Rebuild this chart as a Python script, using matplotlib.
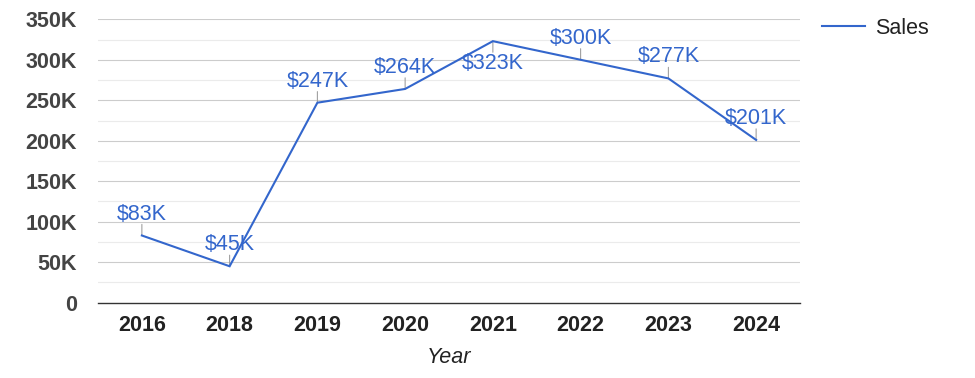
import matplotlib
matplotlib.use("Agg")
import matplotlib.pyplot as plt

years = ["2016", "2018", "2019", "2020", "2021", "2022", "2023", "2024"]
sales = [83000, 45000, 247000, 264000, 323000, 300000, 277000, 201000]
y_ticks = [0, 50000, 100000, 150000, 200000, 250000, 300000, 350000]
y_tick_labels = ["0", "50K", "100K", "150K", "200K", "250K", "300K", "350K"]
minor_ticks = [25000, 75000, 125000, 175000, 225000, 275000, 325000]
series_name = "Sales"
x_title = "Year"

plt.rcParams['font.family'] = ['Liberation Sans', 'DejaVu Sans']

W, H = 975, 378
fig = plt.figure(figsize=(W / 100, H / 100), dpi=100)
left, right, top, bottom = 98, 800, 19.3, 302.7
ax = fig.add_axes([left / W, 1 - bottom / H, (right - left) / W, (bottom - top) / H])

blue = "#3366cc"
fs = 15.5
x = list(range(len(years)))
ax.plot(x, sales, color=blue, lw=1.5, label=series_name, zorder=3, solid_joinstyle='miter')

ax.set_xlim(-0.5, len(years) - 0.5)
ax.set_ylim(0, 350000)

for t in minor_ticks:
    ax.axhline(t, color="#ebebeb", lw=0.8, zorder=1)
for t in y_ticks[1:]:
    ax.axhline(t, color="#cccccc", lw=0.8, zorder=1)

ax.set_yticks(y_ticks)
ax.set_yticklabels(y_tick_labels, fontsize=fs, fontweight='bold', color="#444444")
ax.set_xticks(x)
ax.set_xticklabels(years, fontsize=fs, fontweight='bold', color="#222222")
ax.tick_params(axis='both', length=0)
ax.tick_params(axis='y', pad=15)
ax.tick_params(axis='x', pad=8.5)

for s in ["top", "right", "left"]:
    ax.spines[s].set_visible(False)
ax.spines["bottom"].set_color("#333333")
ax.spines["bottom"].set_linewidth(1.0)
ax.spines["bottom"].set_zorder(2)

ax.set_xlabel(x_title, fontsize=fs, fontstyle='italic', color="#222222", labelpad=8)

ymax = ax.get_ylim()[1]
stem = 8
for xi, v in zip(x, sales):
    label = f"${v / 1000:.0f}K"
    d = -1 if v > 0.9 * ymax else 1
    ax.annotate('', xy=(xi, v), xytext=(0, d * stem), textcoords='offset points',
                arrowprops=dict(arrowstyle='-', color='#999999', lw=0.75, shrinkA=0, shrinkB=0),
                zorder=2)
    if d > 0:
        ax.annotate(label, xy=(xi, v), xytext=(0, stem + 3.5), textcoords='offset points',
                    ha='center', va='baseline', fontsize=fs, color=blue, zorder=4)
    else:
        ax.annotate(label, xy=(xi, v), xytext=(0, -stem - 0.5), textcoords='offset points',
                    ha='center', va='top', fontsize=fs, color=blue, zorder=4)

fig.legend(loc='upper left', bbox_to_anchor=(822 / W, 1 - 18 / H), frameon=False,
           fontsize=fs, handlelength=2.0, handletextpad=0.45, borderpad=0,
           borderaxespad=0, labelcolor="#222222")

fig.savefig("out.png", dpi=100)
